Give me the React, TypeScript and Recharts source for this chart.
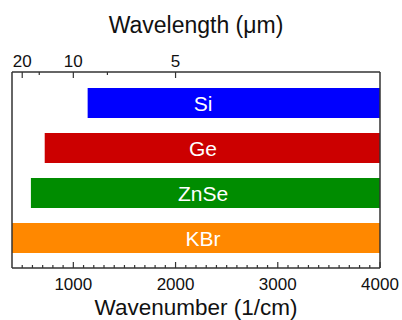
import React from 'react';
import { BarChart, Bar, XAxis, YAxis, LabelList, Label, Cell } from 'recharts';

const materials = ['Si', 'Ge', 'ZnSe', 'KBr'];
const rangeStart = [1140, 720, 585, 400];
const rangeEnd = [4000, 4000, 4000, 4000];
const barColors = ['#0000FF', '#CC0000', '#008C00', '#FF8800'];

const wavenumberMajorTicks = [1000, 2000, 3000, 4000];
const wavenumberMinorStep = 100;
const wavelengthMajorTicks = [20, 10, 5];
const wavelengthMinorTicks = [15, 7.5];

const DOMAIN: [number, number] = [400, 4000];
const W = 402;
const H = 320;
const TOP_H = 72;
const BOTTOM_H = 52;
const LEFT_W = 12;
const RIGHT_W = 22;
const PLOT_TOP = TOP_H;
const PLOT_BOTTOM = H - BOTTOM_H;
const PLOT_CX = (LEFT_W + (W - RIGHT_W)) / 2;
const AXIS_COLOR = '#333';
const FONT = '"Liberation Sans", Arial, sans-serif';

const data = materials.map((name, i) => ({
  name,
  range: [rangeStart[i], rangeEnd[i]],
  color: barColors[i],
}));

const bottomTicks: number[] = [];
for (let v = DOMAIN[0] + wavenumberMinorStep; v <= DOMAIN[1]; v += wavenumberMinorStep) bottomTicks.push(v);

const topTicks = [...wavelengthMajorTicks, ...wavelengthMinorTicks]
  .map((l) => 10000 / l)
  .sort((a, b) => a - b);

const BottomTick = (props: any) => {
  const { x, payload } = props;
  const v = payload.value;
  const major = wavenumberMajorTicks.includes(v);
  return (
    <g>
      <line x1={x} x2={x} y1={PLOT_BOTTOM} y2={PLOT_BOTTOM - (major ? 6 : 3)} stroke={AXIS_COLOR} strokeWidth={1.2} />
      {major && (
        <text x={x} y={290} textAnchor="middle" fontSize={17} fill="#111" fontFamily={FONT}>
          {v}
        </text>
      )}
    </g>
  );
};

const TopTick = (props: any) => {
  const { x, payload } = props;
  const lambda = 10000 / payload.value;
  const major = wavelengthMajorTicks.some((m) => Math.abs(m - lambda) < 1e-6);
  return (
    <g>
      <line x1={x} x2={x} y1={PLOT_TOP} y2={PLOT_TOP + (major ? 6 : 3)} stroke={AXIS_COLOR} strokeWidth={1.2} />
      {major && (
        <text x={x} y={67} textAnchor="middle" fontSize={17} fill="#111" fontFamily={FONT}>
          {Math.round(lambda)}
        </text>
      )}
    </g>
  );
};

const BarText = (props: any) => {
  const { y, height, value } = props;
  return (
    <text
      x={203}
      y={y + height / 2}
      textAnchor="middle"
      dominantBaseline="central"
      fontSize={21}
      fill="#fff"
      fontFamily={FONT}
    >
      {value}
    </text>
  );
};

export default function App() {
  return (
    <div style={{ position: 'absolute', left: 0, top: 0, fontFamily: FONT }}>
      <BarChart width={W} height={H} data={data} layout="vertical" margin={{ top: 0, right: 0, bottom: 0, left: 0 }}>
        <XAxis
          xAxisId="bottom"
          type="number"
          domain={DOMAIN}
          ticks={bottomTicks}
          interval={0}
          allowDataOverflow
          height={BOTTOM_H}
          tickLine={false}
          axisLine={{ stroke: AXIS_COLOR, strokeWidth: 1.5 }}
          tick={<BottomTick />}
        >
          <Label
            content={() => (
              <text x={PLOT_CX} y={314.5} textAnchor="middle" fontSize={22.5} fill="#111" fontFamily={FONT}>
                Wavenumber (1/cm)
              </text>
            )}
          />
        </XAxis>
        <XAxis
          xAxisId="top"
          orientation="top"
          type="number"
          domain={DOMAIN}
          ticks={topTicks}
          interval={0}
          allowDataOverflow
          height={TOP_H}
          tickLine={false}
          axisLine={{ stroke: AXIS_COLOR, strokeWidth: 1.5 }}
          tick={<TopTick />}
        >
          <Label
            content={() => (
              <text x={PLOT_CX} y={33} textAnchor="middle" fontSize={23} fill="#111" fontFamily={FONT}>
                Wavelength (μm)
              </text>
            )}
          />
        </XAxis>
        <YAxis
          yAxisId="left"
          type="category"
          dataKey="name"
          width={LEFT_W}
          padding={{ top: 8, bottom: 8 }}
          tick={false}
          tickLine={false}
          axisLine={{ stroke: AXIS_COLOR, strokeWidth: 1.5 }}
        />
        <YAxis
          yAxisId="right"
          orientation="right"
          type="category"
          dataKey="name"
          width={RIGHT_W}
          padding={{ top: 8, bottom: 8 }}
          tick={false}
          tickLine={false}
          axisLine={{ stroke: AXIS_COLOR, strokeWidth: 1.5 }}
        />
        <Bar dataKey="range" xAxisId="bottom" yAxisId="left" barSize={30} isAnimationActive={false}>
          {data.map((d) => (
            <Cell key={d.name} fill={d.color} />
          ))}
          <LabelList dataKey="name" content={<BarText />} />
        </Bar>
      </BarChart>
    </div>
  );
}
